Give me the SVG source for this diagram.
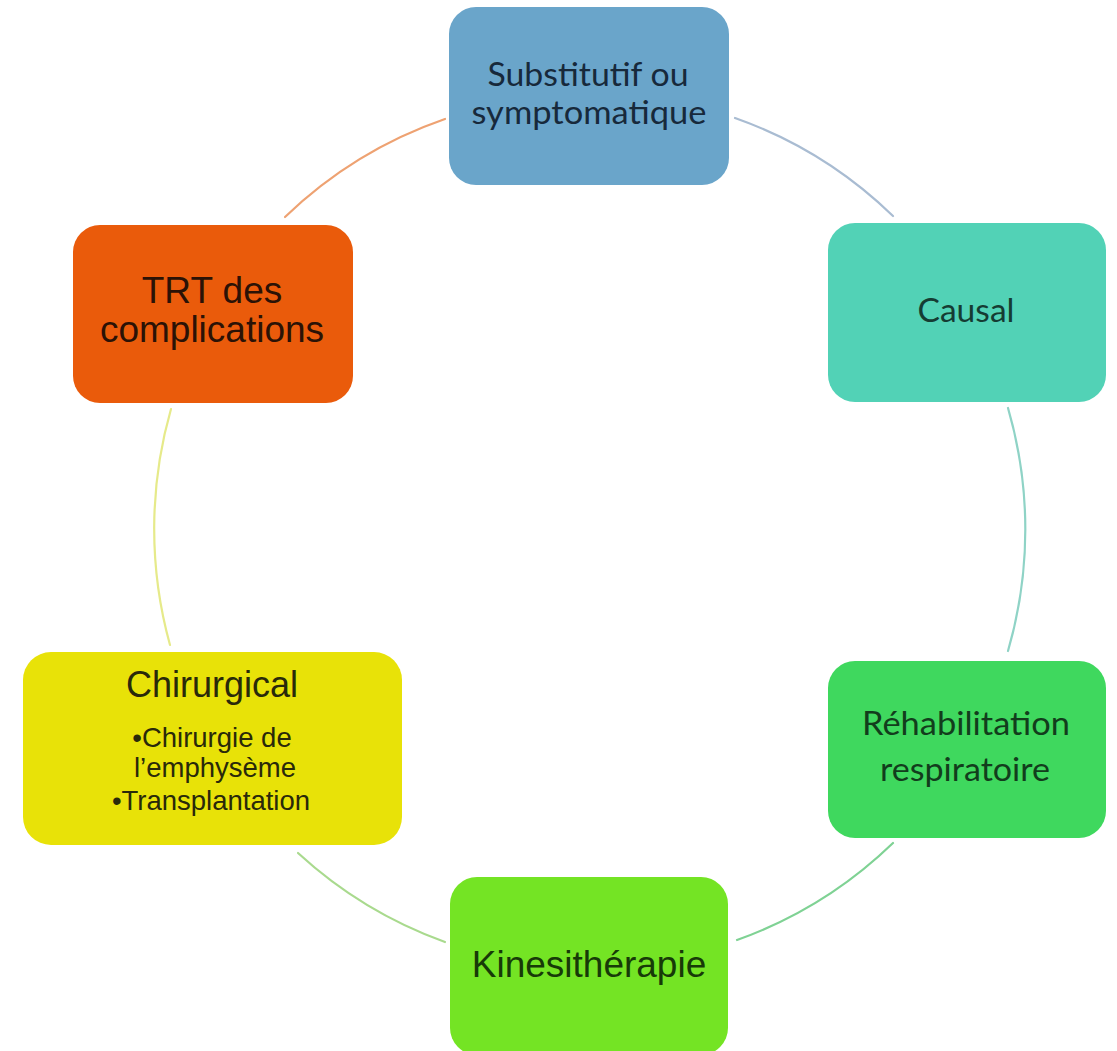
<svg xmlns="http://www.w3.org/2000/svg" width="1117" height="1051" viewBox="0 0 1117 1051">
<style>
.arc{fill:none;stroke-width:2.2;stroke-linecap:round}
.cal{font-family:Lato,"Open Sans","Noto Sans",sans-serif;font-size:33px;text-anchor:middle}
.ar{font-family:"Liberation Sans",Arial,sans-serif;text-anchor:middle}
</style>
<rect width="1117" height="1051" fill="#ffffff"/>
<g id="connectors">
<path class="arc" d="M735,118 A435,435 0 0 1 893,216" stroke="#a9bcd2"/>
<path class="arc" d="M1008,408 A435,435 0 0 1 1008,651" stroke="#8fd3c6"/>
<path class="arc" d="M893,843 A435,435 0 0 1 737,940" stroke="#7fd294"/>
<path class="arc" d="M445,942 A435,435 0 0 1 298,853" stroke="#a9da8e"/>
<path class="arc" d="M170,645 A435,435 0 0 1 171,409" stroke="#e6ea8a"/>
<path class="arc" d="M285,217 A435,435 0 0 1 445,119" stroke="#eea272"/>
</g>
<g id="node-substitutif">
<rect x="449" y="7" width="280" height="178" rx="27" fill="#6aa5ca"/>
<text class="cal" x="588" y="86" fill="#17293b" textLength="201" lengthAdjust="spacingAndGlyphs">Substitutif ou</text>
<text class="cal" x="589" y="124" fill="#17293b" textLength="235" lengthAdjust="spacingAndGlyphs">symptomatique</text>
</g>
<g id="node-causal">
<rect x="828" y="223" width="278" height="179" rx="27" fill="#52d2b6"/>
<text class="cal" x="966" y="322" fill="#153c33" textLength="97" lengthAdjust="spacingAndGlyphs">Causal</text>
</g>
<g id="node-rehabilitation">
<rect x="828" y="661" width="278" height="177" rx="27" fill="#3fd85e"/>
<text class="cal" x="966" y="735" fill="#123d1c" textLength="208" lengthAdjust="spacingAndGlyphs">Réhabilitation</text>
<text class="cal" x="965" y="781" fill="#123d1c" textLength="170" lengthAdjust="spacingAndGlyphs">respiratoire</text>
</g>
<g id="node-kinesitherapie">
<rect x="450" y="877" width="278" height="178" rx="27" fill="#74e424"/>
<text class="ar" x="589" y="977" font-size="37" fill="#173a08">Kinesithérapie</text>
</g>
<g id="node-chirurgical">
<rect x="23" y="652" width="379" height="193" rx="28" fill="#e8e208"/>
<text class="ar" x="212" y="697" font-size="36" fill="#29290a">Chirurgical</text>
<text class="ar" x="212" y="747" font-size="27.5" fill="#29290a">•Chirurgie de</text>
<text class="ar" x="215" y="777" font-size="27.5" fill="#29290a">l’emphysème</text>
<text class="ar" x="211" y="810" font-size="27.5" fill="#29290a">•Transplantation</text>
</g>
<g id="node-trt">
<rect x="73" y="225" width="280" height="178" rx="27" fill="#ea5b0b"/>
<text class="ar" x="212" y="303" font-size="37" fill="#2b1206">TRT des</text>
<text class="ar" x="212" y="342" font-size="37" fill="#2b1206">complications</text>
</g>
</svg>
